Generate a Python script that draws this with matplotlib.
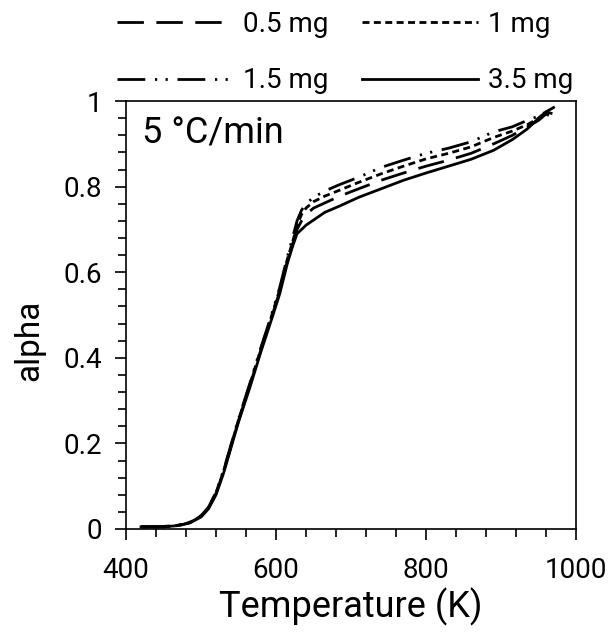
import numpy as np
import matplotlib.pyplot as plt
from matplotlib.ticker import MultipleLocator

plt.rcParams["font.family"] = ["Roboto", "DejaVu Sans"]

# temperature (K)
TEMP = [420, 450, 470, 485, 500, 510, 520, 530, 540, 550, 565, 580, 595, 605, 615, 622, 628,
        634, 640, 650, 665, 685, 710, 740, 770, 800, 830, 860, 890, 915, 935, 950, 960, 970]

# conversion (alpha) per sample mass
A_05 = [0.005, 0.005, 0.008, 0.015, 0.029, 0.049, 0.083, 0.133, 0.193, 0.253, 0.334, 0.42, 0.50, 0.556, 0.625, 0.665, 0.70,
        0.72, 0.735, 0.75, 0.762, 0.778, 0.795, 0.815, 0.832, 0.848, 0.862, 0.878, 0.90, 0.92, 0.94, 0.955, 0.97, 0.96]
A_1 = [0.005, 0.005, 0.009, 0.015, 0.03, 0.05, 0.085, 0.135, 0.195, 0.255, 0.337, 0.422, 0.503, 0.56, 0.63, 0.67, 0.71,
       0.735, 0.75, 0.765, 0.778, 0.792, 0.81, 0.83, 0.848, 0.865, 0.878, 0.893, 0.915, 0.93, 0.945, 0.96, 0.975, 0.97]
A_15 = [0.005, 0.006, 0.009, 0.016, 0.031, 0.051, 0.086, 0.137, 0.197, 0.257, 0.34, 0.425, 0.506, 0.565, 0.635, 0.68, 0.72,
        0.745, 0.76, 0.775, 0.79, 0.805, 0.822, 0.845, 0.862, 0.878, 0.89, 0.905, 0.928, 0.94, 0.955, 0.965, 0.975, 0.968]
A_35 = [0.005, 0.005, 0.008, 0.014, 0.028, 0.047, 0.08, 0.13, 0.19, 0.25, 0.33, 0.415, 0.495, 0.55, 0.62, 0.66, 0.69,
        0.70, 0.71, 0.722, 0.74, 0.755, 0.775, 0.795, 0.815, 0.832, 0.848, 0.864, 0.885, 0.91, 0.935, 0.96, 0.975, 0.985]

LABELS = ["0.5 mg", "1 mg", "1.5 mg", "3.5 mg"]

fig = plt.figure(figsize=(6.14, 6.32), dpi=100)
ax = fig.add_axes([0.2052, 0.163, 0.733, 0.677])

lw = 2.0
h05, = ax.plot(TEMP, A_05, color="black", lw=lw, dashes=(9.5, 4.5), label=LABELS[0])
h1, = ax.plot(TEMP, A_1, color="black", lw=lw, dashes=(2.5, 1.6), label=LABELS[1])
h15, = ax.plot(TEMP, A_15, color="black", lw=lw, dashes=(10, 3.5, 0.8, 3, 0.8, 3.5), label=LABELS[2])
h35, = ax.plot(TEMP, A_35, color="black", lw=lw, label=LABELS[3])

ax.set_xlim(400, 1000)
ax.set_ylim(0, 1)
ax.xaxis.set_major_locator(MultipleLocator(200))
ax.xaxis.set_minor_locator(MultipleLocator(40))
ax.yaxis.set_minor_locator(MultipleLocator(0.04))
ax.set_yticks([0, 0.2, 0.4, 0.6, 0.8, 1.0])
ax.set_yticklabels(["0", "0.2", "0.4", "0.6", "0.8", "1"])

ax.tick_params(which="both", direction="out", width=1.2, labelsize=20)
ax.tick_params(which="major", length=8)
ax.tick_params(which="minor", length=5.5)
ax.tick_params(axis="x", pad=12)
ax.tick_params(axis="y", pad=9)
for sp in ax.spines.values():
    sp.set_linewidth(1.2)

ax.set_xlabel("Temperature (K)", fontsize=26, labelpad=3)
ax.set_ylabel("alpha", fontsize=24)
ax.yaxis.set_label_coords(-0.18, 0.44)

ax.text(0.036, 0.925, "5 \u00b0C/min", transform=ax.transAxes, fontsize=26,
        ha="left", va="center")

fig.legend([h05, h15, h1, h35], [LABELS[0], LABELS[2], LABELS[1], LABELS[3]],
           ncol=2, frameon=False, fontsize=20, handlelength=4.2,
           handletextpad=0.35, columnspacing=1.2, labelspacing=1.05,
           loc="upper left", bbox_to_anchor=(0.172, 1.0), borderaxespad=0)

fig.savefig("out.png", dpi=100)
